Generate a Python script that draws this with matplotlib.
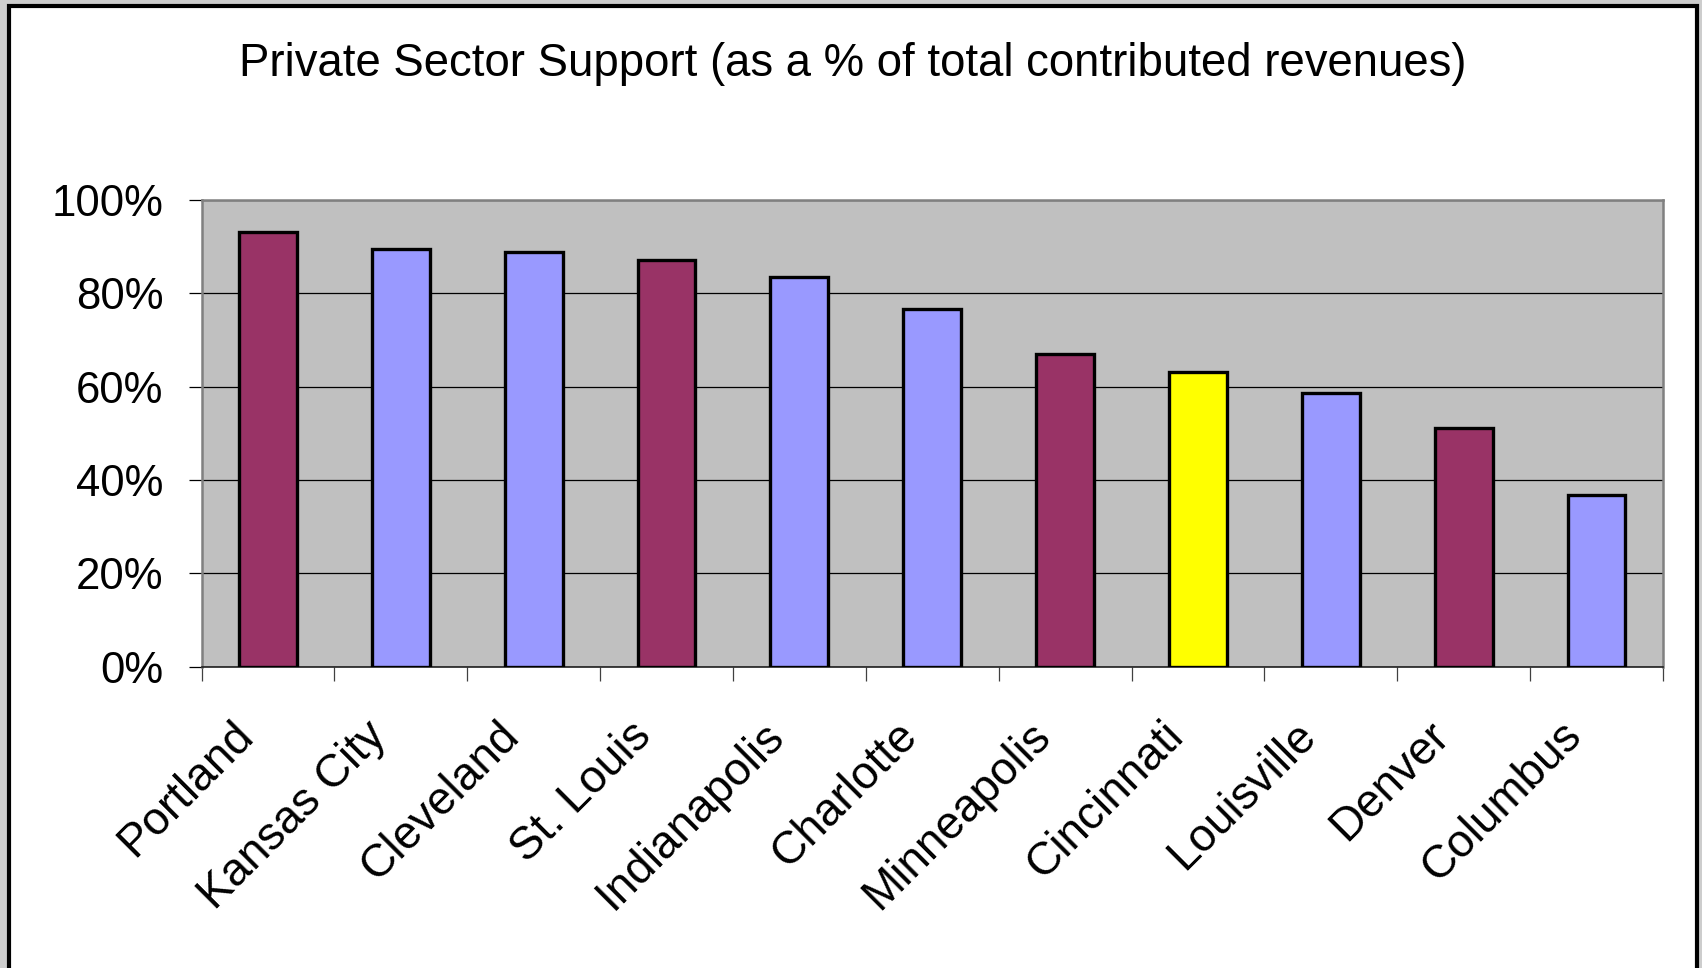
import matplotlib.pyplot as plt
from matplotlib.patches import Rectangle
from matplotlib.ticker import FixedLocator, PercentFormatter
from matplotlib.transforms import ScaledTranslation

# city shares of contributed revenue from the private sector
cities = ["Portland", "Kansas City", "Cleveland", "St. Louis", "Indianapolis",
          "Charlotte", "Minneapolis", "Cincinnati", "Louisville", "Denver", "Columbus"]
support = [0.932, 0.894, 0.888, 0.871, 0.836, 0.767, 0.669, 0.632, 0.586, 0.511, 0.367]
groups = ["a", "b", "b", "a", "b", "b", "a", "c", "b", "a", "b"]

palette = {"a": "#993366", "b": "#9999FF", "c": "#FFFF00"}

plt.rcParams["font.family"] = ["Liberation Sans", "DejaVu Sans"]

W, H = 1702, 968
fig = plt.figure(figsize=(W / 100, H / 100), dpi=100)
fig.patch.set_facecolor("#CDCDCD")

# white chart frame with heavy black border, kept behind the axes
frame = Rectangle((9 / W, -0.05), (1697 - 9) / W, (H - 6) / H + 0.05,
                  transform=fig.transFigure, facecolor="white",
                  edgecolor="black", linewidth=3, zorder=-1)
fig.patches.append(frame)

ax = fig.add_axes([201.5 / W, (H - 666.7) / H, (1663 - 201.5) / W, (666.7 - 200) / H])
ax.set_facecolor("#C0C0C0")

x = list(range(len(cities)))
colors = [palette[g] for g in groups]
ax.bar(x, support, width=0.435, color=colors, edgecolor="black",
       linewidth=2.4, zorder=3)

ax.set_xlim(-0.5, len(cities) - 0.5)
ax.set_ylim(0, 1)

# gridlines
ax.yaxis.set_major_locator(FixedLocator([0, 0.2, 0.4, 0.6, 0.8, 1.0]))
ax.yaxis.set_major_formatter(PercentFormatter(1.0, decimals=0))
ax.grid(axis="y", color="black", linewidth=0.9, zorder=1)
ax.set_axisbelow(True)

for side in ["top", "left", "right"]:
    ax.spines[side].set_color("#808080")
    ax.spines[side].set_linewidth(1.8)
ax.spines["bottom"].set_color("#202020")
ax.spines["bottom"].set_linewidth(1.2)

ax.tick_params(axis="y", length=9.5, width=0.9, color="black",
               pad=18, labelsize=31.5)
ax.tick_params(axis="x", which="major", length=0, pad=51, labelsize=33)
ax.set_xticks(x)
ax.set_xticklabels(cities, rotation=45, ha="right", va="baseline",
                   rotation_mode="anchor")
ax.set_xticks([i - 0.5 for i in range(len(cities) + 1)], minor=True)
ax.tick_params(axis="x", which="minor", length=10, width=0.9, color="#404040")

# nudge the slanted city names a little to the left
shift = ScaledTranslation(-13 / 100, 0, fig.dpi_scale_trans)
for lbl in ax.get_xticklabels():
    lbl.set_transform(lbl.get_transform() + shift)

fig.text(853 / W, 1 - 76 / H,
         "Private Sector Support (as a % of total contributed revenues)",
         ha="center", va="baseline", fontsize=32.8)

fig.savefig("out.png", dpi=100, facecolor=fig.get_facecolor())
